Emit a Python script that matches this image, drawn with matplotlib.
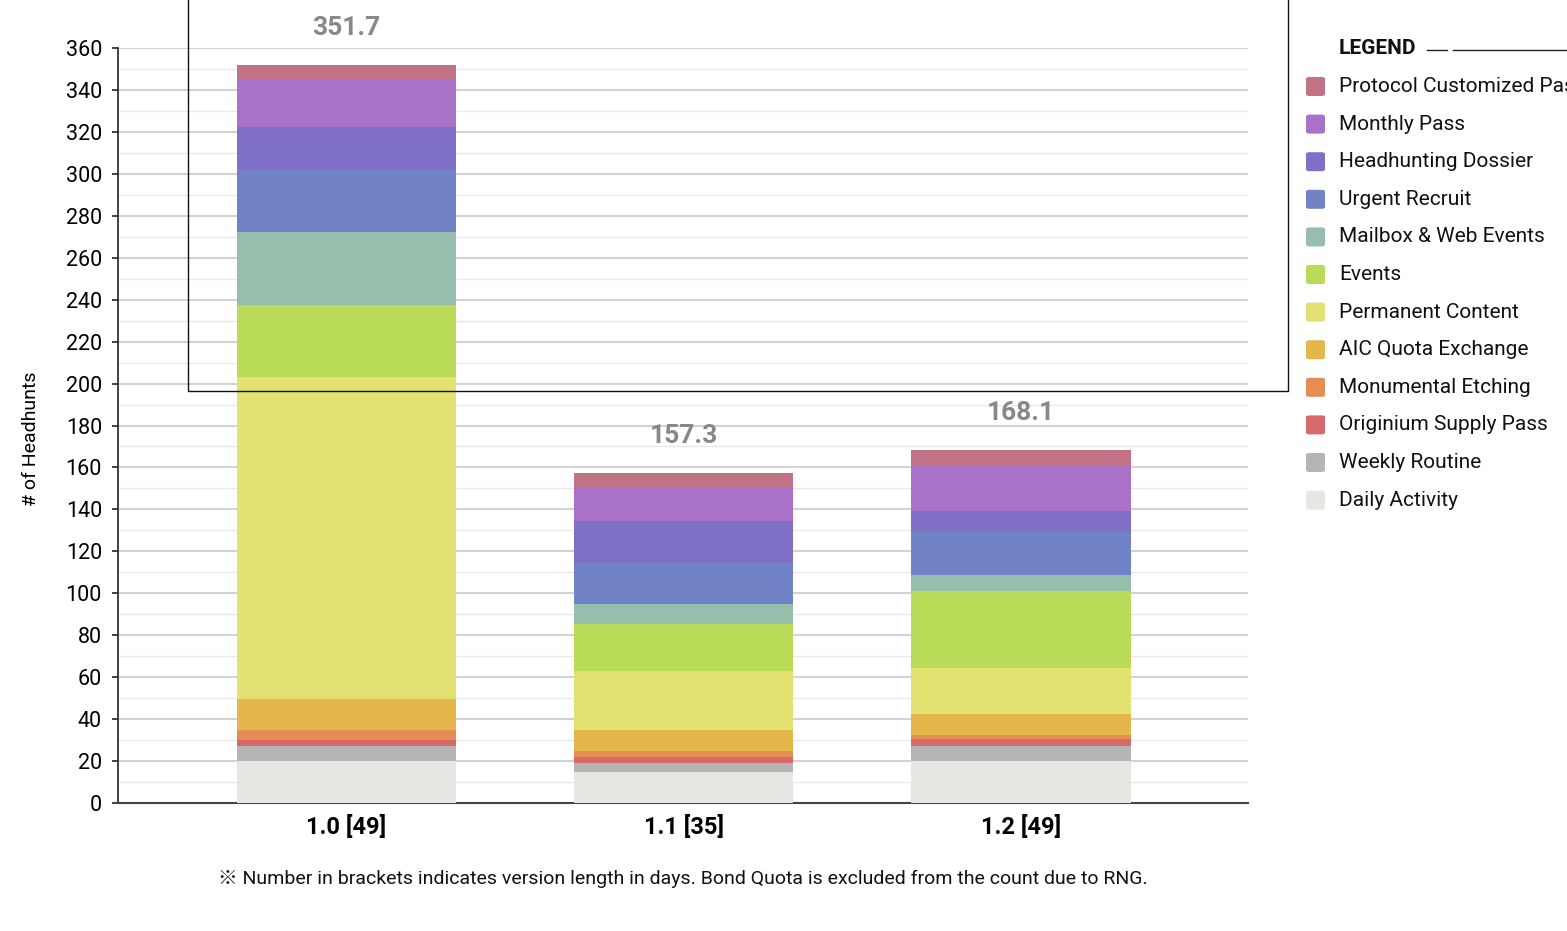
import numpy as np
import matplotlib.pyplot as plt
from matplotlib.patches import Rectangle, FancyBboxPatch
from matplotlib.lines import Line2D

plt.rcParams['font.family'] = ['Roboto', 'Noto Sans CJK JP', 'DejaVu Sans']

versions = ['1.0 [49]', '1.1 [35]', '1.2 [49]']

# stacked bottom -> top
categories = ['Daily Activity', 'Weekly Routine', 'Originium Supply Pass',
              'Monumental Etching', 'AIC Quota Exchange', 'Permanent Content',
              'Events', 'Mailbox & Web Events', 'Urgent Recruit',
              'Headhunting Dossier', 'Monthly Pass', 'Protocol Customized Pass']
colors = ['#e6e7e3', '#b5b5b5', '#d6696a', '#e58d52', '#e4b74d', '#e4e173',
          '#badb57', '#95bead', '#7282c6', '#806fc6', '#a971c7', '#c27285']

daily = [20.0, 14.6, 20.0]
weekly = [7.2, 4.6, 7.2]
originium = [2.8, 2.9, 3.2]
monumental = [4.8, 2.7, 2.0]
aic = [14.8, 10.0, 10.0]
permanent = [153.7, 28.1, 22.1]
events = [34.2, 22.5, 36.6]
mailbox = [34.9, 9.5, 7.6]
urgent = [29.8, 19.4, 20.7]
dossier = [20.0, 20.3, 9.8]
monthly = [22.9, 15.9, 21.8]
protocol = [6.6, 6.8, 7.1]

series = [daily, weekly, originium, monumental, aic, permanent,
          events, mailbox, urgent, dossier, monthly, protocol]

W, H = 1567, 931
fig = plt.figure(figsize=(W / 100, H / 100), dpi=100)
ax = fig.add_axes([118 / W, 1 - 803 / H, (1248 - 118) / W, (803 - 48) / H])

x = np.arange(len(versions))
bottom = np.zeros(len(versions))
for vals, col in zip(series, colors):
    ax.bar(x, vals, width=0.65, bottom=bottom, color=col, edgecolor='none', zorder=3)
    bottom += np.array(vals)

for xi, tot in zip(x, bottom):
    ax.text(xi, tot + 12, f'{tot:.1f}', ha='center', va='bottom',
            fontsize=19, fontweight='bold', color='#888888')

ax.set_xlim(-0.677, 2.673)
ax.set_ylim(0, 360)
ax.set_yticks(np.arange(0, 361, 20))
ax.set_yticks(np.arange(10, 360, 20), minor=True)
ax.grid(axis='y', which='major', color='#d2d2d2', lw=1.5, zorder=0)
ax.grid(axis='y', which='minor', color='#e9e9e9', lw=1.0, zorder=0)
ax.tick_params(axis='y', which='major', labelsize=15.5, length=4.5, width=1.2,
               color='#222222', pad=7)
ax.tick_params(axis='y', which='minor', length=0)
ax.set_xticks(x)
ax.set_xticklabels(versions, fontsize=17, fontweight='bold')
ax.tick_params(axis='x', length=0, pad=9)

for s in ['top', 'right']:
    ax.spines[s].set_visible(False)
ax.spines['left'].set_color('#222222')
ax.spines['left'].set_linewidth(1.2)
ax.spines['bottom'].set_color('#444444')
ax.spines['bottom'].set_linewidth(1.5)

ax.set_ylabel('# of Headhunts', fontsize=14)
ax.yaxis.set_label_coords(-0.069, 0.482)

fig.text(683 / W, 1 - 879 / H,
         '※ Number in brackets indicates version length in days. '
         'Bond Quota is excluded from the count due to RNG.',
         ha='center', va='center', fontsize=14, color='#111111')

# legend, top entry first
fig.text(1339 / W, 1 - 48 / H, 'LEGEND', fontsize=15, fontweight='bold',
         va='center', ha='left', color='#111111')
fig.add_artist(Line2D([1427 / W, 1447 / W], [1 - 50 / H] * 2, color='#222222', lw=1))
fig.add_artist(Line2D([1453 / W, 1.0], [1 - 50 / H] * 2, color='#222222', lw=1))
for i, (name, col) in enumerate(zip(categories[::-1], colors[::-1])):
    yc = 86.5 + i * 37.6
    fig.add_artist(FancyBboxPatch((1306 / W, 1 - (yc + 9.5) / H), 19 / W, 19 / H,
                                  boxstyle='round,pad=0,rounding_size=0.002',
                                  transform=fig.transFigure, fc=col, ec='none'))
    fig.text(1339 / W, 1 - yc / H, name, fontsize=15, va='center', ha='left',
             color='#111111')

# thin frame overlay from the source screenshot
fig.add_artist(Rectangle((188 / W, 1 - 391 / H), 1100 / W, 391 / H + 0.01,
                         transform=fig.transFigure, fill=False, ec='#111111', lw=1))

fig.savefig('out.png', dpi=100)
